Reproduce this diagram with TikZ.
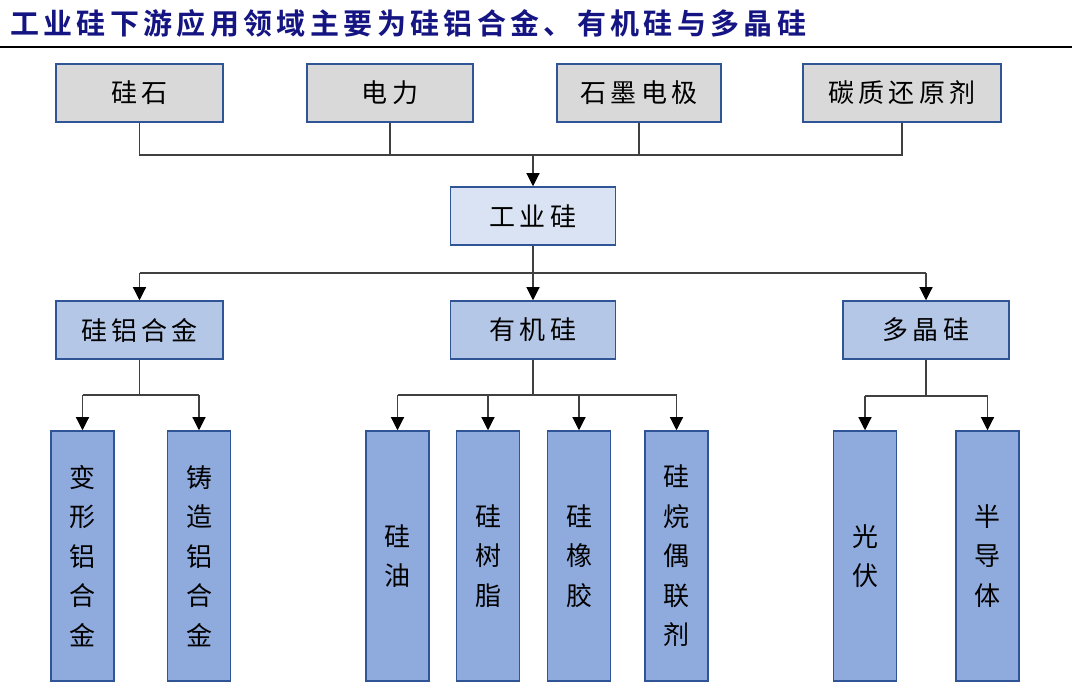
\documentclass[tikz,border=0pt]{standalone}
\usepackage{fontspec}
\setmainfont{Noto Sans CJK SC}
\newfontfamily\titlefont[LetterSpace=15,BoldFont={Noto Sans CJK SC Bold}]{Noto Sans CJK SC}
\newfontfamily\boxfont[LetterSpace=16]{Noto Sans CJK SC}
\newfontfamily\vfont{Noto Sans CJK SC}
\usetikzlibrary{arrows.meta}
\definecolor{titleblue}{RGB}{20,20,130}
\definecolor{bordblue}{RGB}{47,85,151}
\definecolor{graybox}{RGB}{217,217,217}
\definecolor{lightbox}{RGB}{218,227,243}
\definecolor{midbox}{RGB}{180,199,231}
\definecolor{deepbox}{RGB}{143,170,220}
\definecolor{linegray}{RGB}{64,64,64}
\begin{document}
\begin{tikzpicture}[x=1pt,y=-1pt,
  boxbase/.style={draw=bordblue,line width=1.5pt,inner sep=0pt,text=black},
  hbox/.style={boxbase,minimum height=58pt,font=\boxfont\fontsize{26pt}{30pt}\selectfont},
  vbox/.style={boxbase,minimum width=63pt,minimum height=250pt,fill=deepbox,align=center,font=\vfont\fontsize{26pt}{39.5pt}\selectfont},
  conn/.style={draw=linegray,line width=1.1pt},
  arr/.style={conn,-{Triangle[width=13pt,length=13pt,color=black]}}
]
\useasboundingbox (0,0) rectangle (1072,692);
% title
\node[anchor=base west,inner sep=0pt,text=titleblue,font=\titlefont\bfseries\fontsize{29pt}{32pt}\selectfont] (ttl) at (10,35) {工业硅下游应用领域主要为硅铝合金、有机硅与多晶硅};
\draw[line width=2pt] (0,47) -- (1072,47);
% top row
\node[hbox,fill=graybox,minimum width=167pt] (gs) at (139.5,93) {硅石};
\node[hbox,fill=graybox,minimum width=166pt] (dl) at (390,93) {电力};
\node[hbox,fill=graybox,minimum width=164pt] (sm) at (639,93) {石墨电极};
\node[hbox,fill=graybox,minimum width=198pt] (tz) at (902,93) {碳质还原剂};
% industrial silicon
\node[hbox,fill=lightbox,minimum width=165pt] (gy) at (533,216) {工业硅};
% second row
\node[hbox,fill=midbox,minimum width=167pt] (gl) at (139.5,330) {硅铝合金};
\node[hbox,fill=midbox,minimum width=165pt] (yj) at (533,330) {有机硅};
\node[hbox,fill=midbox,minimum width=166pt] (dj) at (926,330) {多晶硅};
% third row
\node[vbox] (bx) at (82.5,556) {变\\形\\铝\\合\\金};
\node[vbox] (zz) at (199,556) {铸\\造\\铝\\合\\金};
\node[vbox] (gyo) at (397.5,556) {硅\\油};
\node[vbox] (gsz) at (488,556) {硅\\树\\脂};
\node[vbox] (gxj) at (579,556) {硅\\橡\\胶};
\node[vbox] (gwo) at (676.5,556) {硅\\烷\\偶\\联\\剂};
\node[vbox] (gf) at (865,556) {光\\伏};
\node[vbox] (bdt) at (987.5,556) {半\\导\\体};
% connectors top
\coordinate (bus1) at (533,155);
\draw[conn] (gs.south) |- (tz.south |- bus1) -- (tz.south);
\draw[conn] (dl.south) -- (dl.south |- bus1);
\draw[conn] (sm.south) -- (sm.south |- bus1);
\draw[arr] (bus1) -- (gy.north);
% connectors middle
\coordinate (bus2) at (533,273);
\draw[conn] (gy.south) -- (bus2);
\draw[conn] (gl.north |- bus2) -- (dj.north |- bus2);
\draw[arr] (gl.north |- bus2) -- (gl.north);
\draw[arr] (bus2) -- (yj.north);
\draw[arr] (dj.north |- bus2) -- (dj.north);
% connectors bottom left
\coordinate (bus3) at (139.5,395);
\draw[conn] (gl.south) -- (bus3);
\draw[conn] (bx.north |- bus3) -- (zz.north |- bus3);
\draw[arr] (bx.north |- bus3) -- (bx.north);
\draw[arr] (zz.north |- bus3) -- (zz.north);
% bottom middle
\coordinate (bus4) at (533,395);
\draw[conn] (yj.south) -- (bus4);
\draw[conn] (gyo.north |- bus4) -- (gwo.north |- bus4);
\draw[arr] (gyo.north |- bus4) -- (gyo.north);
\draw[arr] (gsz.north |- bus4) -- (gsz.north);
\draw[arr] (gxj.north |- bus4) -- (gxj.north);
\draw[arr] (gwo.north |- bus4) -- (gwo.north);
% bottom right
\coordinate (bus5) at (926,396);
\draw[conn] (dj.south) -- (bus5);
\draw[conn] (gf.north |- bus5) -- (bdt.north |- bus5);
\draw[arr] (gf.north |- bus5) -- (gf.north);
\draw[arr] (bdt.north |- bus5) -- (bdt.north);
\end{tikzpicture}
\end{document}
